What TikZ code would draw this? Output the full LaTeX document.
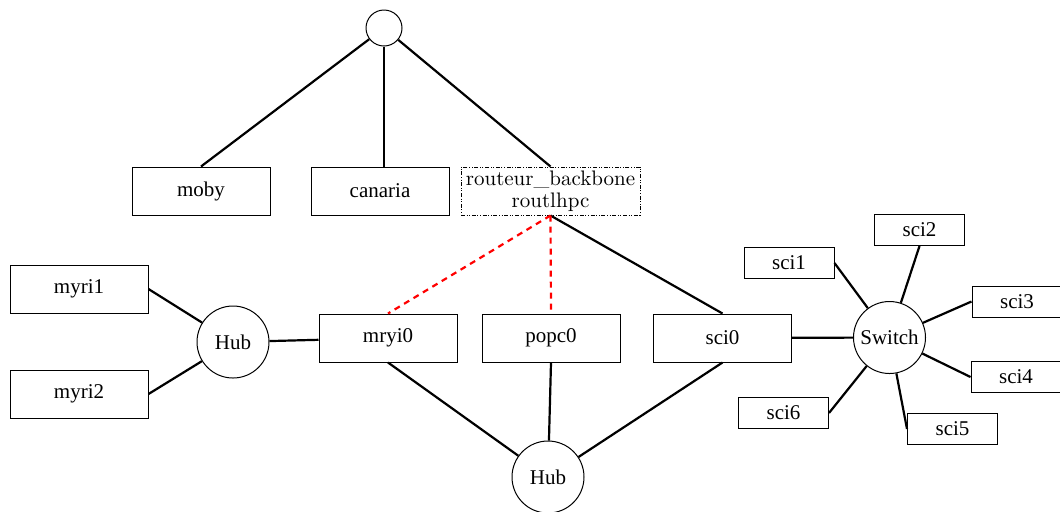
\documentclass[tikz,border=0pt]{standalone}
\usepackage{fontspec}
\newfontfamily\timesfont{Liberation Serif}
\usetikzlibrary{positioning}

\tikzset{
	machine/.style={draw, line width=0.5pt, minimum width=69pt, minimum height=24pt, inner sep=0pt, font=\timesfont\fontsize{10.5}{12}\selectfont},
	scibox/.style={draw, line width=0.5pt, minimum width=45pt, minimum height=15.5pt, inner sep=0pt, font=\timesfont\fontsize{10.5}{12}\selectfont},
	hub/.style={draw, circle, line width=0.5pt, minimum size=36pt, inner sep=0pt, font=\timesfont\fontsize{10.5}{12}\selectfont},
	link/.style={line width=1.1pt},
	gw/.style={red, line width=1.1pt, dash pattern=on 3pt off 2.5pt}
}

\begin{document}
\begin{tikzpicture}[x=0.5pt,y=-0.5pt]
				\useasboundingbox (0,0) rectangle (1060,511);
				% top level
				\node[draw, circle, line width=0.5pt, minimum size=18pt, inner sep=0pt] (top) at (384,28) {};
				\node[machine] (moby) at (201,191) {moby};
				\node[machine] (canaria) at (380,191) {canaria};
				\node[draw, line width=0.5pt, minimum width=89.5pt, minimum height=24pt, inner sep=0pt, align=center,
					dash pattern=on 2pt off 0.8pt on 0.5pt off 0.8pt on 0.5pt off 0.8pt, font=\fontsize{10.5}{11}\selectfont] (routeur) at (550.5,191) {routeur\_backbone\\routlhpc};
				% myri side
				\node[machine] (myri1) at (79,289) {myri1};
				\node[machine] (myri2) at (79,394) {myri2};
				\node[hub] (hubL) at (233,342) {Hub};
				\node[machine] (mryi0) at (388,338) {mryi0};
				\node[machine] (popc0) at (551,338) {popc0};
				\node[machine] (sci0) at (722.5,338) {sci0};
				\node[hub] (hubB) at (548,477) {Hub};
				% sci side
				\node[hub] (switch) at (889.5,337.5) {Switch};
				\node[scibox] (sci1) at (789,263) {sci1};
				\node[scibox] (sci2) at (919.5,230) {sci2};
				\node[scibox] (sci3) at (1017,301.5) {sci3};
				\node[scibox] (sci4) at (1016,377) {sci4};
				\node[scibox] (sci5) at (952.5,429) {sci5};
				\node[scibox] (sci6) at (783.5,413) {sci6};
				% links
				\draw[link] (top) -- (moby.north);
				\draw[link] (top) -- (top |- canaria.north);
				\draw[link] (top) -- (routeur.north);
				\draw[link] (routeur.south) -- (sci0.north);
				\draw[gw] (routeur.south) -- (mryi0.north);
				\draw[gw] (routeur.south) -- (popc0.north);
				\draw[link] (myri1.east) -- (hubL);
				\draw[link] (myri2.east) -- (hubL);
				\draw[link] (hubL) -- (mryi0);
				\draw[link] (mryi0.south) -- (hubB);
				\draw[link] (popc0.south) -- (hubB);
				\draw[link] (sci0.south) -- (hubB);
				\draw[link] (sci0) -- (switch);
				\draw[link] (switch) -- (sci1.east);
				\draw[link] (switch) -- (sci2.south);
				\draw[link] (switch) -- (sci3.west);
				\draw[link] (switch) -- (sci4.west);
				\draw[link] (switch) -- (sci5.west);
				\draw[link] (switch) -- (sci6.east);
			\end{tikzpicture}
\end{document}
